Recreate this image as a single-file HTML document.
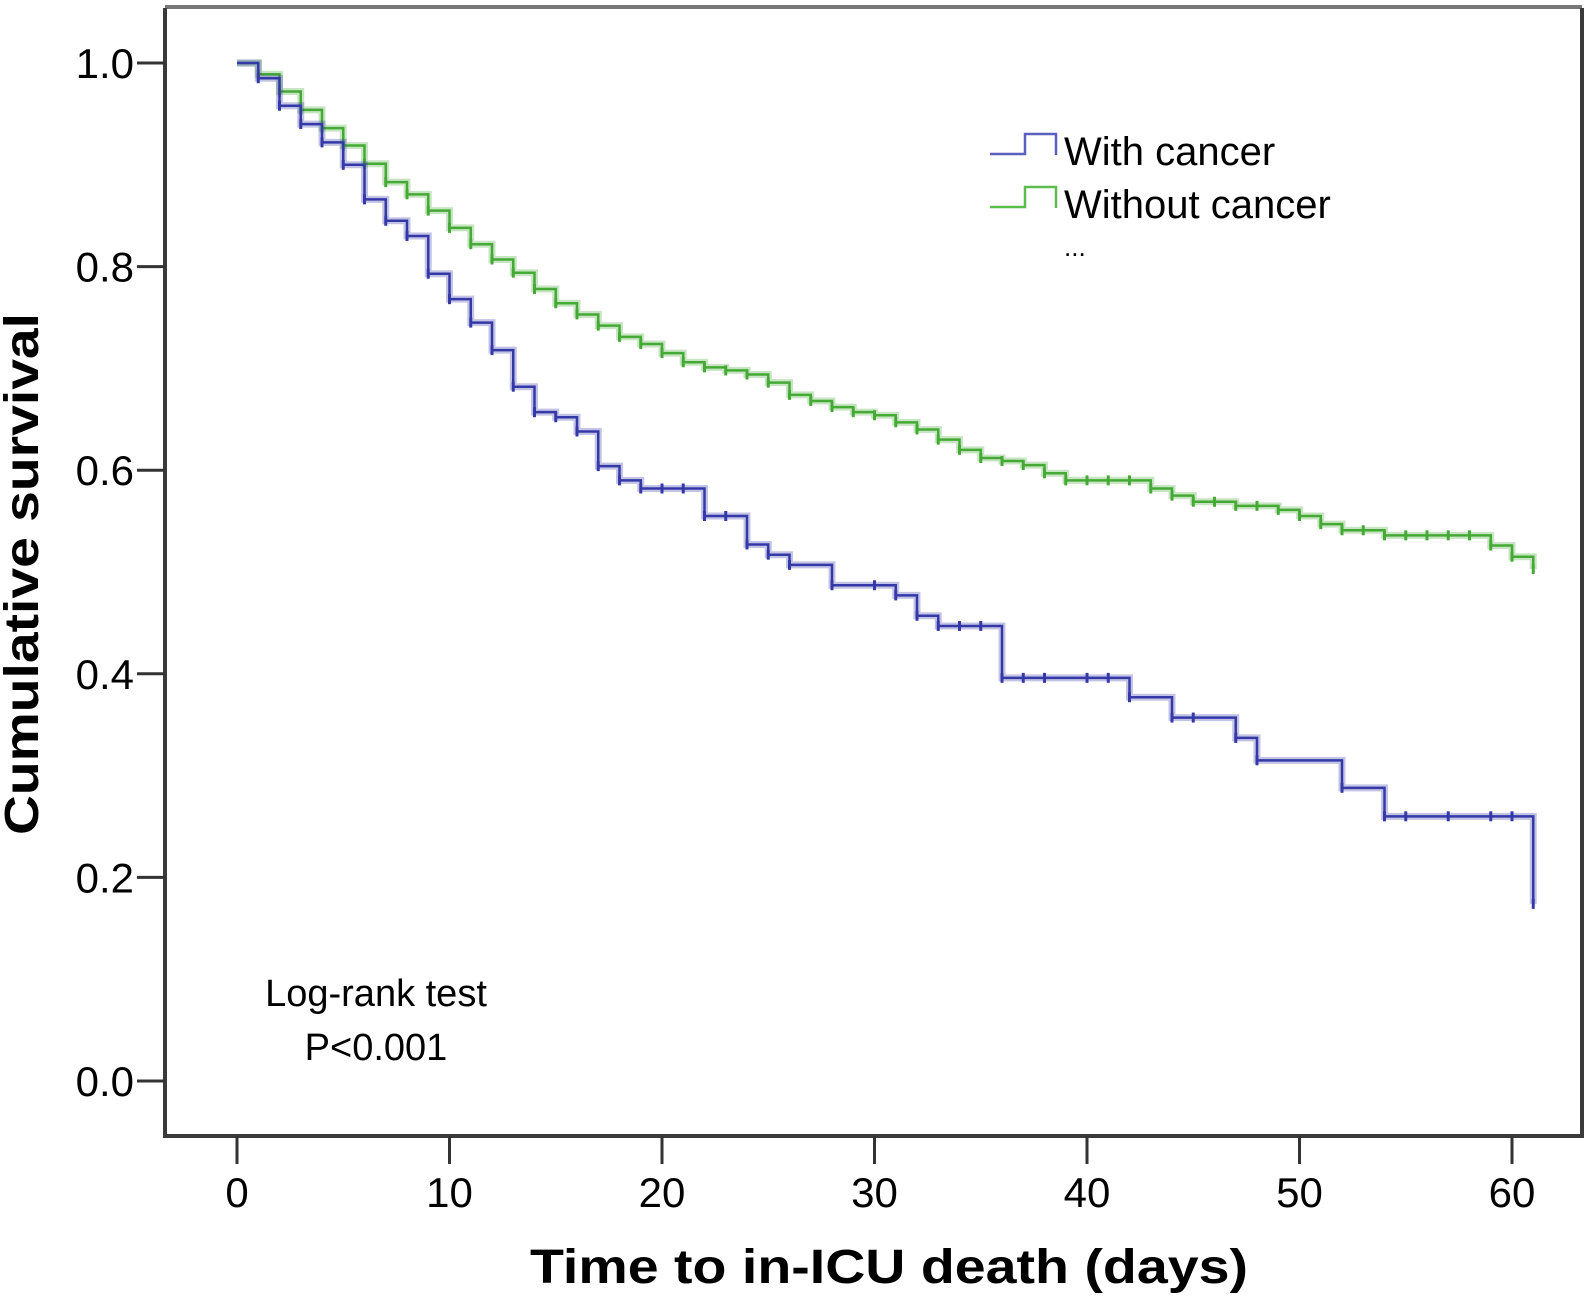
<!DOCTYPE html>
<html><head><meta charset="utf-8"><style>
html,body{margin:0;padding:0;background:#fff;}
svg{display:block;font-family:"Liberation Sans",sans-serif;}
</style></head><body>
<svg id="chart" width="1591" height="1305" viewBox="0 0 1591 1305">
<rect x="0" y="0" width="1591" height="1305" fill="#fff"/>
<g id="axes"></g>
<g id="series"></g>
<g>
  <path d="M990 154 H1025 V134 H1056 V155" fill="none" stroke="#5a5fc0" stroke-width="2.5"/>
  <text x="1064" y="165" font-size="40" fill="#000">With cancer</text>
  <path d="M990 207 H1025 V187 H1056 V208" fill="none" stroke="#5cbc4c" stroke-width="2.5"/>
  <text x="1064" y="218" font-size="40" fill="#000">Without cancer</text>
  <text x="1064" y="256" font-size="26" fill="#000">...</text>
</g>
<text x="376" y="1006" font-size="38" text-anchor="middle">Log-rank test</text>
<text x="376" y="1060" font-size="38" text-anchor="middle">P&lt;0.001</text>
<text x="889" y="1283" font-size="48" font-weight="bold" text-anchor="middle" textLength="718" lengthAdjust="spacingAndGlyphs">Time to in-ICU death (days)</text>
<text transform="translate(38,574) rotate(-90)" font-size="48" font-weight="bold" text-anchor="middle" textLength="522" lengthAdjust="spacingAndGlyphs">Cumulative survival</text>
</svg>
<script>
const xTicks=[0,10,20,30,40,50,60];
const yTicks=[0.0,0.2,0.4,0.6,0.8,1.0];
const yTickLabels=["0.0","0.2","0.4","0.6","0.8","1.0"];
const cancerTimes=[0,1,2,3,4,5,6,7,8,9,10,11,12,13,14,15,16,17,18,19,22,24,25,26,28,31,32,33,36,42,44,47,48,52,54,61];
const cancerSurv=[1.0,0.985,0.958,0.94,0.922,0.9,0.866,0.845,0.83,0.793,0.768,0.745,0.718,0.682,0.657,0.652,0.638,0.604,0.59,0.582,0.555,0.527,0.517,0.507,0.487,0.477,0.457,0.447,0.396,0.377,0.357,0.337,0.315,0.288,0.26,0.174];
const cancerCensor=[20,21,23,30,34,35,37,38,40,41,45,55,57,59,60];
const noCancerTimes=[0,1,2,3,4,5,6,7,8,9,10,11,12,13,14,15,16,17,18,19,20,21,22,23,24,25,26,27,28,29,30,31,32,33,34,35,36,37,38,39,43,44,45,47,49,50,51,52,54,59,60,61];
const noCancerSurv=[1.0,0.989,0.972,0.954,0.936,0.919,0.901,0.883,0.871,0.855,0.838,0.822,0.807,0.794,0.778,0.764,0.753,0.742,0.731,0.724,0.715,0.706,0.701,0.698,0.694,0.686,0.674,0.668,0.662,0.657,0.654,0.647,0.64,0.63,0.62,0.612,0.609,0.605,0.597,0.59,0.582,0.575,0.569,0.565,0.561,0.555,0.547,0.541,0.536,0.526,0.515,0.503];
const noCancerCensor=[40,41,42,46,48,53,55,56,57,58];

const X0=237,X1=1512,Y0=1081,Y1=63;
const xs=d=>X0+(X1-X0)*d/60;
const ys=v=>Y0-(Y0-Y1)*v;
const NS="http://www.w3.org/2000/svg";
function mk(tag,attrs,parent){const e=document.createElementNS(NS,tag);for(const k in attrs)e.setAttribute(k,attrs[k]);parent.appendChild(e);return e;}
const axesG=document.getElementById('axes');
const frameTop=mk('line',{x1:165,y1:7,x2:1582,y2:7,stroke:'#777','stroke-width':4},axesG);


const frame=mk('path',{d:`M165 1136 V8 M1582 8 V1136 H163`,fill:'none',stroke:'#3a3a3a','stroke-width':4},axesG);


xTicks.forEach(t=>{
  const l=mk('line',{x1:xs(t),y1:1136,x2:xs(t),y2:1164,stroke:'#333','stroke-width':3},axesG);
  
  
  const tx=mk('text',{x:xs(t),y:1207,'font-size':42,'text-anchor':'middle'},axesG);
  tx.textContent=String(t);
  
  
});
yTicks.forEach((t,i)=>{
  const l=mk('line',{x1:137,y1:ys(t),x2:165,y2:ys(t),stroke:'#333','stroke-width':3},axesG);
  
  
  const tx=mk('text',{x:134,y:ys(t)+15,'font-size':42,'text-anchor':'end'},axesG);
  tx.textContent=yTickLabels[i];
  
  
});
const seriesG=document.getElementById('series');
function survAt(times,surv,t){let v=surv[0];for(let i=0;i<times.length;i++){if(times[i]<=t)v=surv[i];}return v;}
function draw(times,surv,censor,color,name){
  let d=`M${xs(times[0])} ${ys(surv[0])}`;
  for(let i=1;i<times.length;i++){d+=` H${xs(times[i])} V${ys(surv[i])}`;}
  const g=mk('g',{},seriesG);
  
  
  const halo=mk('path',{d:d,fill:'none',stroke:color,'stroke-width':7,'stroke-opacity':0.3},g);
  
  
  const p=mk('path',{d:d,fill:'none',stroke:color,'stroke-width':2.5},g);
  
  
  const marks=censor.concat(times.slice(1));
  marks.forEach(t=>{
    const v=survAt(times,surv,t);
    const m=mk('line',{x1:xs(t),y1:ys(v)-5,x2:xs(t),y2:ys(v)+5,stroke:color,'stroke-width':3},g);
    
    
  });
}
draw(noCancerTimes,noCancerSurv,noCancerCensor,'#45aa35','without-cancer-curve');
draw(cancerTimes,cancerSurv,cancerCensor,'#3539a8','with-cancer-curve');
</script>
</body></html>
